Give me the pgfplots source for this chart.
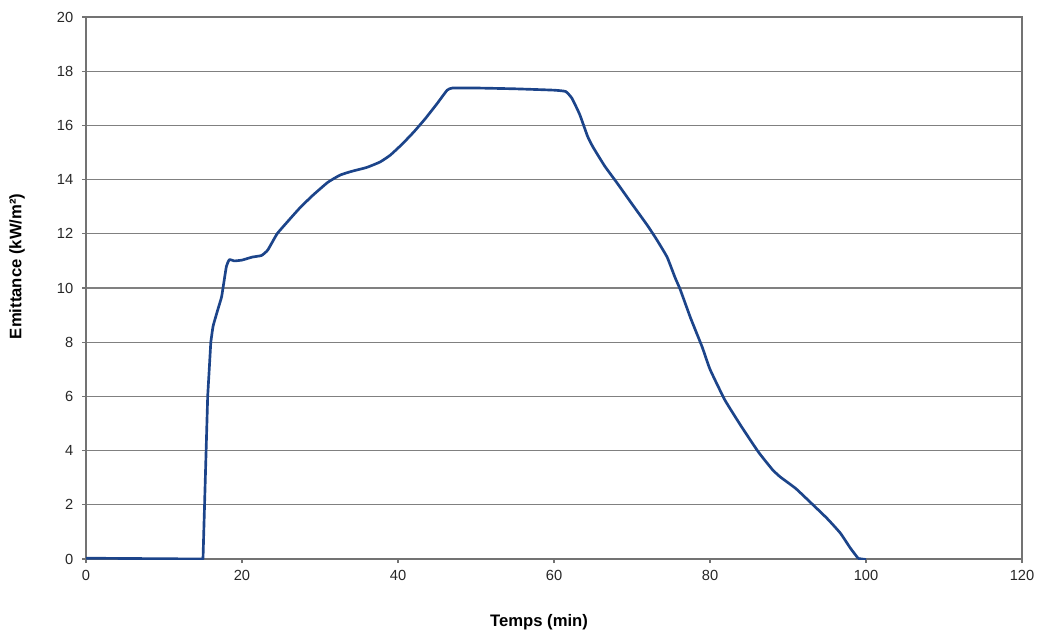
\documentclass[border=0pt]{standalone}
\usepackage{fontspec}
\setmainfont{Liberation Sans}
\usepackage{pgfplots}
\pgfplotsset{compat=1.18}
\definecolor{curve}{RGB}{28,68,138}
\definecolor{gridc}{RGB}{128,128,128}
\begin{document}
\begin{tikzpicture}
\useasboundingbox (-64.5pt,-55.5pt) rectangle (716.25pt,419.25pt);
\begin{axis}[
  at={(0,0)}, anchor=south west,
  scale only axis, width=702pt, height=406.5pt,
  xmin=0, xmax=120, ymin=0, ymax=20,
  xtick={0,20,...,120}, ytick={0,2,...,20},
  ymajorgrids, grid style={gridc, line width=0.9pt},
  axis line style={gridc!90!black, line width=0.9pt},
  tick style={gridc!90!black, line width=0.8pt},
  tick align=outside, major tick length=3pt,
  xtick pos=bottom, ytick pos=left,
  /pgf/number format/assume math mode=true,
  tick label style={font=\fontsize{11}{13}\selectfont, text=black!85},
  yticklabel style={xshift=-3pt},
  xticklabel style={yshift=-2pt},
  xlabel={\textbf{Temps (min)}},
  ylabel={\textbf{Emittance (kW/m²)}},
  label style={font=\fontsize{12.5}{14}\selectfont},
  xlabel style={at={(axis description cs:0.484,-0.1162)}, anchor=center},
  ylabel style={at={(axis description cs:-0.0737,0.54)}, anchor=center},
]
\addplot[curve, line width=2pt, line join=round] coordinates {
(0,0.03)(15.0,0)(15.6,6)(16.0,8.0)
};
\addplot[curve, line width=2pt, line join=round, smooth, tension=0.25] coordinates {
(16.0,8.0)(16.3,8.6)(17.0,9.3)(17.4,9.7)(18.0,10.8)(18.4,11.05)
(19,11.0)(20,11.03)(21.3,11.14)(22.5,11.2)(23.3,11.4)(24.5,12.0)(26,12.5)(27.4,12.95)
(29,13.4)(31,13.9)(32.6,14.17)(34,14.3)(36,14.45)(37.7,14.65)(39,14.9)(40.5,15.3)
(42,15.75)(43.5,16.25)(45,16.8)(46.3,17.3)(47,17.38)(50,17.38)(55,17.35)(60,17.3)
(61.5,17.25)(62.3,17.0)(63.3,16.4)(64.3,15.6)(65,15.2)(66.5,14.5)(68.1,13.87)(70,13.1)
(72,12.3)(73.2,11.77)(74.5,11.14)(75.5,10.4)(76.2,9.93)(77.5,8.9)(79,7.82)(80,7.0)
(81.9,5.87)(84,4.9)(86.2,3.95)(88,3.3)(89,3.03)(91,2.6)(93.2,2.0)(95,1.5)(96.7,0.96)
(98,0.4)(99,0.02)
};
\addplot[curve, line width=2pt, line join=round] coordinates {
(99,0.02)(100,-0.02)
};
\end{axis}
\end{tikzpicture}
\end{document}
